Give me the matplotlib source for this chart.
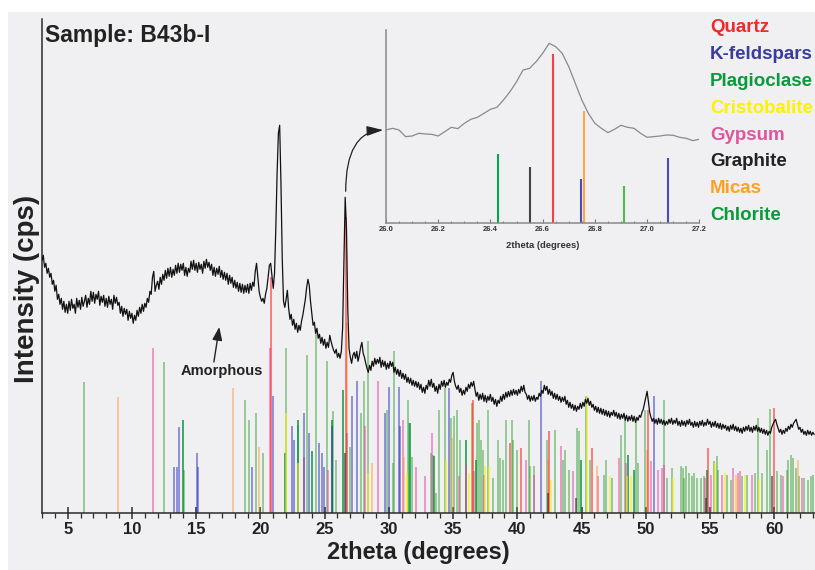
import numpy as np
import matplotlib
matplotlib.use("Agg")
import matplotlib.pyplot as plt
from matplotlib.patches import Rectangle
from matplotlib.ticker import MultipleLocator

plt.rcParams['font.family'] = ['Liberation Sans', 'DejaVu Sans']

# ---------------- measured pattern (2theta step 0.1 deg, from 3.0) ----------------
intensity = [
    253, 258, 246, 250, 240, 245, 236, 240, 229, 233,
    222, 228, 214, 219, 209, 215, 204, 212, 201, 209,
    200, 212, 203, 214, 205, 209, 200, 215, 206, 213,
    204, 216, 207, 212, 218, 206, 215, 209, 222, 212,
    221, 210, 219, 214, 222, 208, 217, 211, 218, 207,
    215, 206, 217, 209, 214, 204, 218, 210, 216, 208,
    211, 200, 207, 197, 205, 199, 204, 193, 202, 195,
    200, 190, 198, 193, 203, 197, 206, 200, 209, 202,
    210, 206, 215, 211, 222, 219, 236, 242, 222, 228,
    232, 224, 236, 229, 239, 233, 243, 235, 245, 237,
    246, 236, 244, 238, 248, 240, 250, 241, 249, 243,
    250, 238, 246, 237, 245, 241, 252, 244, 253, 243,
    250, 241, 251, 244, 249, 240, 252, 245, 254, 246,
    251, 243, 249, 238, 246, 237, 245, 239, 247, 236,
    243, 234, 241, 233, 240, 229, 238, 230, 236, 226,
    233, 225, 231, 222, 230, 221, 229, 220, 228, 221,
    229, 220, 230, 223, 231, 227, 242, 250, 236, 222,
    216, 212, 215, 210, 219, 225, 236, 248, 250, 238,
    225, 240, 285, 340, 380, 388, 330, 255, 212, 206,
    214, 223, 205, 194, 199, 188, 194, 184, 190, 181,
    188, 183, 192, 198, 206, 214, 226, 234, 228, 212,
    200, 188, 191, 180, 185, 175, 179, 170, 176, 168,
    174, 165, 171, 166, 178, 172, 167, 163, 160, 164,
    156, 160, 155, 162, 185, 250, 316, 285, 205, 165,
    156, 150, 158, 161, 155, 162, 152, 158, 166, 171,
    160, 156, 150, 145, 141, 148, 143, 152, 147, 155,
    149, 154, 150, 156, 146, 153, 147, 152, 144, 150,
    145, 152, 147, 151, 141, 146, 139, 144, 137, 143,
    135, 140, 134, 139, 131, 136, 130, 135, 128, 133,
    127, 132, 126, 131, 124, 129, 121, 126, 120, 128,
    124, 133, 127, 134, 126, 130, 122, 127, 120, 129,
    124, 132, 127, 133, 126, 131, 128, 134, 131, 138,
    141, 132, 127, 124, 128, 121, 125, 118, 123, 119,
    126, 122, 129, 125, 131, 127, 132, 124, 117, 121,
    113, 119, 114, 120, 112, 118, 111, 117, 113, 119,
    112, 116, 109, 114, 107, 113, 110, 117, 112, 119,
    114, 121, 116, 122, 117, 123, 118, 124, 119, 123,
    118, 124, 120, 127, 122, 128, 121, 119, 114, 118,
    112, 117, 113, 118, 112, 116, 114, 120, 117, 123,
    120, 128, 123, 127, 119, 124, 118, 122, 115, 120,
    114, 119, 113, 117, 111, 116, 112, 117, 109, 113,
    106, 111, 105, 109, 103, 108, 102, 107, 104, 110,
    105, 111, 107, 114, 110, 115, 108, 112, 106, 109,
    103, 107, 101, 106, 100, 105, 99, 104, 98, 103,
    97, 102, 96, 101, 98, 103, 97, 101, 95, 100,
    94, 99, 95, 100, 93, 98, 92, 97, 93, 98,
    92, 97, 91, 96, 93, 98, 96, 101, 104, 110,
    116, 122, 112, 101, 96, 92, 95, 90, 94, 89,
    95, 90, 94, 89, 93, 88, 92, 89, 94, 90,
    95, 89, 93, 90, 95, 88, 92, 87, 93, 88,
    92, 87, 93, 89, 94, 88, 91, 86, 92, 87,
    91, 86, 92, 88, 93, 87, 91, 88, 94, 89,
    92, 86, 91, 87, 92, 86, 90, 85, 90, 84,
    89, 85, 88, 83, 87, 82, 88, 84, 89, 83,
    87, 82, 86, 81, 85, 80, 86, 82, 87, 83,
    88, 82, 86, 81, 87, 83, 88, 82, 86, 81,
    85, 80, 84, 79, 83, 78, 82, 80, 86, 89,
    92, 94, 89, 85, 81, 84, 79, 83, 80, 85,
    82, 87, 84, 89, 86, 90, 92, 94, 89, 84,
    86, 81, 84, 79, 82, 78, 83, 79, 82, 78,
    81, 79,
]
two_theta = np.round(3.0 + 0.1 * np.arange(len(intensity)), 1)

# ---------------- reference stick patterns: (2theta, relative height) ----------------
chlorite_pos = [6.25, 12.53, 14.09, 18.82, 19.13, 19.65, 20.17, 21.97, 22.90, 23.65,
                24.33, 25.16, 25.65, 25.86, 26.97, 27.83, 28.04, 28.35, 29.88, 30.30,
                30.43, 31.46, 31.60, 31.77, 33.27, 33.41, 33.66, 33.90, 34.36, 34.83,
                35.07, 35.32, 35.53, 36.44, 36.83, 37.04, 37.17, 37.30, 37.74, 38.13,
                38.49, 38.65, 38.85, 39.14, 39.55, 39.68, 40.00, 40.88, 40.98, 41.29,
                42.33, 42.93, 43.52, 43.70, 44.04, 44.61, 44.80, 45.32, 45.65, 46.77,
                46.90, 47.34, 48.04, 48.38, 49.21, 49.41, 49.93, 51.41, 51.62, 52.06,
                52.73, 52.89, 53.00, 53.10, 53.38, 53.62, 53.77, 53.95, 54.29, 54.50,
                55.28, 55.51, 55.64, 56.29, 56.60, 57.51, 57.85, 58.50, 58.70, 59.07,
                59.46, 59.66, 60.18, 60.49, 60.96, 61.09, 61.27, 61.48, 61.69, 61.92,
                62.34, 62.65, 62.86, 63.04]
chlorite_int = [131, 151, 43, 113, 93, 100, 60, 165, 88, 158,
                180, 152, 102, 53, 66, 100, 132, 172, 103, 50,
                162, 113, 90, 56, 60, 58, 20, 103, 125, 95,
                97, 103, 73, 110, 90, 93, 73, 63, 103, 35,
                73, 55, 53, 93, 93, 73, 63, 93, 47, 47,
                73, 83, 53, 63, 43, 85, 82, 117, 53, 38,
                53, 35, 78, 93, 93, 50, 103, 113, 35, 45,
                47, 45, 35, 47, 40, 37, 40, 35, 35, 37,
                52, 57, 43, 38, 33, 37, 38, 40, 95, 40,
                63, 104, 42, 38, 43, 53, 58, 55, 45, 37,
                35, 33, 37, 38]

plagioclase_pos = [13.94, 21.92, 22.95, 23.99, 25.55, 26.43, 31.64, 33.50, 35.97, 36.75,
                   44.93, 48.64, 49.05, 54.79]
plagioclase_int = [93, 60, 93, 62, 93, 123, 90, 57, 73, 53,
                   53, 58, 43, 43]

gypsum_pos = [11.62, 20.75, 23.42, 25.29, 28.14, 29.13, 31.13, 32.14, 32.80, 33.38,
              35.48, 36.00, 36.65, 37.40, 40.67, 41.30, 43.37, 44.30, 46.25, 47.93,
              48.43, 50.40, 50.92, 51.23, 51.45, 54.60, 55.07, 55.90, 56.81, 57.15,
              57.33, 58.29, 60.70, 62.13]
gypsum_int = [165, 165, 56, 43, 87, 132, 93, 46, 37, 80,
              37, 48, 42, 38, 53, 38, 67, 42, 37, 55,
              50, 52, 43, 45, 48, 35, 38, 38, 45, 40,
              42, 38, 37, 35]

kfeldspar_pos = [13.29, 13.47, 13.68, 15.05, 15.12, 19.36, 21.00, 22.43, 22.64, 23.42,
                 23.78, 24.56, 24.77, 24.98, 25.60, 26.74, 27.10, 27.49, 29.70, 30.04,
                 30.82, 30.87, 34.65, 41.81, 50.66]
kfeldspar_int = [46, 46, 86, 60, 46, 46, 117, 87, 73, 100,
                 80, 70, 60, 46, 87, 80, 117, 132, 100, 126,
                 126, 87, 125, 132, 117]

micas_pos = [8.90, 17.83, 19.91, 26.76, 28.71, 31.18, 34.95, 36.45, 42.40, 46.17,
             50.06, 57.05, 61.82]
micas_int = [116, 125, 66, 190, 50, 56, 75, 110, 53, 47,
             63, 38, 53]

cristobalite_pos = [22.00, 22.95, 28.35, 31.44, 34.44, 36.26, 37.48, 37.82, 42.60, 45.39,
                    47.21, 48.53, 48.82, 52.14, 55.38, 56.16, 56.99, 57.72, 58.81]
cristobalite_int = [100, 50, 40, 40, 53, 40, 47, 47, 33, 117,
                    37, 37, 37, 35, 50, 40, 35, 38, 35]

quartz_pos = [20.86, 26.64, 36.54, 39.46, 40.29, 42.45, 45.79, 50.14, 54.87, 59.96]
quartz_int = [236, 296, 113, 70, 65, 82, 65, 103, 65, 105]

graphite_pos = [26.55, 42.36, 44.56, 54.66, 59.79]
graphite_int = [60, 20, 15, 15, 37]

# ---------------- zoomed region around the main quartz reflection ----------------
zoom_intensity = [280, 285, 280, 260, 262, 270, 268, 267, 262, 275,
                  288, 284, 300, 312, 318, 330, 342, 348, 370, 395,
                  425, 460, 465, 485, 510, 540, 530, 510, 470, 420,
                  370, 330, 300, 285, 272, 282, 294, 288, 285, 270,
                  258, 260, 262, 265, 264, 258, 255, 248, 252]
zoom_theta = np.round(26.0 + 0.025 * np.arange(len(zoom_intensity)), 3)

zoom_stick_pos = [26.43, 26.55, 26.64, 26.745, 26.76, 26.91, 27.08]
zoom_stick_int = [208, 168, 507, 134, 338, 112, 196]
zoom_stick_col = ['#00a651', '#444444', '#ff3b3b', '#4b4bb8', '#ffa640', '#4cbb4c', '#4b4bb8']

legend_names = ['Quartz', 'K-feldspars', 'Plagioclase', 'Cristobalite',
                'Gypsum', 'Graphite', 'Micas', 'Chlorite']
legend_colors = ['#ee2b2b', '#3b3b9e', '#0a9a3c', '#fff200',
                 '#e0559d', '#222222', '#ffa024', '#0a9a3c']

# ---------------- figure ----------------
W, H = 815, 570
fig = plt.figure(figsize=(W / 100, H / 100), dpi=100, facecolor='white')
bg = '#f0f0f2'
fig.patches.append(Rectangle((8 / W, 0), 1, 1 - 12 / H, transform=fig.transFigure,
                             facecolor=bg, edgecolor='none', zorder=-10))


def fx(px):
    return px / W


def fy(py):
    return 1 - py / H


ax_left, ax_right, ax_top, ax_bot = 42, 815, 19, 513.3
ax = fig.add_axes([fx(ax_left), fy(ax_bot), fx(ax_right - ax_left), (ax_bot - ax_top) / H])
ax.patch.set_alpha(0)
ax.set_xlim(3.0, 63.17)
ax.set_ylim(0, ax_bot - ax_top)

lw_stick = 1.3
ax.vlines(chlorite_pos, 0, chlorite_int, colors='#2ca02c', alpha=0.5, lw=lw_stick, zorder=2)
ax.vlines(plagioclase_pos, 0, plagioclase_int, colors='#00903a', alpha=0.8, lw=lw_stick, zorder=2)
ax.vlines(gypsum_pos, 0, gypsum_int, colors='#ee3d9a', alpha=0.55, lw=lw_stick, zorder=2)
ax.vlines(kfeldspar_pos, 0, kfeldspar_int, colors='#3232c0', alpha=0.55, lw=lw_stick, zorder=2)
ax.vlines(micas_pos, 0, micas_int, colors='#ff9a30', alpha=0.5, lw=lw_stick, zorder=2)
ax.vlines(cristobalite_pos, 0, cristobalite_int, colors='#ffee00', alpha=0.6, lw=lw_stick, zorder=2)
ax.vlines(quartz_pos, 0, quartz_int, colors='#ff2020', alpha=0.6, lw=lw_stick, zorder=2)
ax.vlines(graphite_pos, 0, graphite_int, colors='#222222', alpha=0.6, lw=lw_stick, zorder=2)

ax.plot(two_theta, intensity, color='#111111', lw=0.9, zorder=4)

for s in ['top', 'right']:
    ax.spines[s].set_visible(False)
for s in ['left', 'bottom']:
    ax.spines[s].set_color('#2a2a2a')
    ax.spines[s].set_linewidth(1.1)
ax.set_yticks([])
ax.xaxis.set_major_locator(MultipleLocator(5))
ax.xaxis.set_minor_locator(MultipleLocator(1))
ax.tick_params(axis='x', which='major', direction='inout', length=8, width=1.1,
               color='#2a2a2a', labelsize=12, pad=2)
ax.tick_params(axis='x', which='minor', direction='out', length=3.5, width=0.9, color='#2a2a2a')
ax.set_xticks([t for t in range(5, 61, 5)])
ax.set_xticklabels([str(t) for t in range(5, 61, 5)], fontweight='bold', color='#222222')

fig.text(fx(418), fy(553), '2theta (degrees)', ha='center', va='center',
         fontsize=17, fontweight='bold', color='#222222')
fig.text(fx(27), fy(289), 'Intensity (cps)', ha='center', va='center', rotation=90,
         fontsize=20, fontweight='bold', color='#222222')
fig.text(fx(45), fy(41.7), 'Sample: B43b-I', ha='left', va='baseline',
         fontsize=16.5, fontweight='bold', color='#222222')

for i, (name, col) in enumerate(zip(legend_names, legend_colors)):
    fig.text(fx(710), fy(32.3 + 26.8 * i), name, ha='left', va='baseline',
             fontsize=13.5, fontweight='bold', color=col)

# amorphous hump label
ax.annotate('', xy=(16.8, 513.3 - 327), xytext=(16.38, 513.3 - 362),
            arrowprops=dict(arrowstyle='-|>,head_length=0.8,head_width=0.3', color='#222222',
                            lw=1.0, shrinkA=0, shrinkB=0))
ax.text(17.0, 513.3 - 371, 'Amorphous', ha='center', va='center', fontsize=10.5,
        fontweight='bold', color='#222222')

# ---------------- inset ----------------
in_l, in_r, in_t, in_b = 386, 699.3, 30, 223.3
axi = fig.add_axes([fx(in_l), fy(in_b), fx(in_r - in_l), (in_b - in_t) / H])
axi.patch.set_alpha(0)
axi.set_xlim(26.0, 27.2)
axi.set_ylim(0, 580)
for c, p, h in zip(zoom_stick_col, zoom_stick_pos, zoom_stick_int):
    axi.vlines(p, 0, h, colors=c, lw=1.5, zorder=2)
axi.plot(zoom_theta, zoom_intensity, color='#8a8a8a', lw=0.9, zorder=3)
for s in ['top', 'right']:
    axi.spines[s].set_visible(False)
for s in ['left', 'bottom']:
    axi.spines[s].set_color('#8a8a8a')
    axi.spines[s].set_linewidth(1.1)
axi.set_yticks([])
axi.xaxis.set_major_locator(MultipleLocator(0.2))
axi.xaxis.set_minor_locator(MultipleLocator(0.05))
axi.tick_params(axis='x', which='major', direction='in', length=3, width=0.8, color='#777777',
                labelsize=5.5, pad=2, labelcolor='#333333')
axi.tick_params(axis='x', which='minor', direction='in', length=1.5, width=0.7, color='#777777')
for lab in axi.get_xticklabels():
    lab.set_fontweight('bold')
axi.xaxis.set_major_formatter(matplotlib.ticker.FormatStrFormatter('%.1f'))
axi.set_xlabel('2theta (degrees)', fontsize=6.8, fontweight='bold', color='#333333', labelpad=6)

# connector from the quartz peak to the zoomed view
ax.annotate('', xy=(26.0, 280), xycoords=axi.transData,
            xytext=(26.64, 322), textcoords=ax.transData,
            arrowprops=dict(arrowstyle='-|>,head_length=1.0,head_width=0.3', color='#222222',
                            lw=0.9, shrinkA=0, shrinkB=2,
                            connectionstyle='angle3,angleA=90,angleB=0'))

fig.savefig('out.png', dpi=100, facecolor=fig.get_facecolor())
